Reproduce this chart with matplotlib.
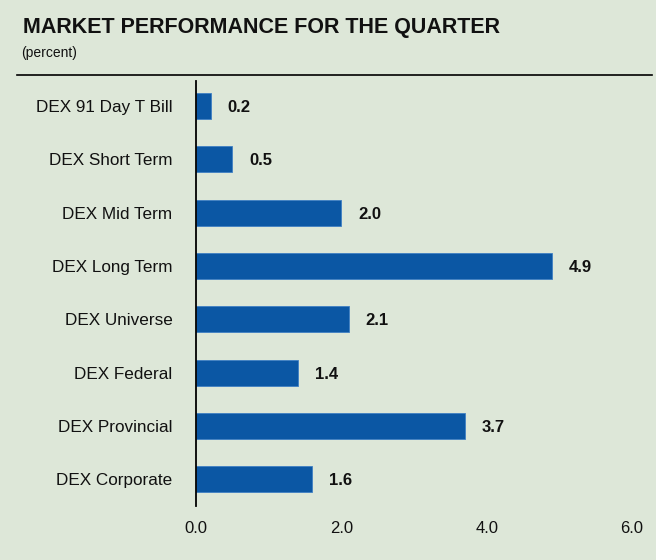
import matplotlib
matplotlib.use("Agg")
import matplotlib.pyplot as plt
from matplotlib.lines import Line2D

categories = ["DEX 91 Day T Bill", "DEX Short Term", "DEX Mid Term", "DEX Long Term",
              "DEX Universe", "DEX Federal", "DEX Provincial", "DEX Corporate"]
values = [0.2, 0.5, 2.0, 4.9, 2.1, 1.4, 3.7, 1.6]
xticks = [0.0, 2.0, 4.0, 6.0]

bg = "#dde7d8"
plt.rcParams['font.family'] = ['Liberation Sans', 'DejaVu Sans']

fig = plt.figure(figsize=(6.56, 5.6), dpi=100, facecolor=bg)
ax = fig.add_axes([196/656, 1 - 506/560, (632 - 196)/656, (506 - 81)/560])
ax.set_facecolor(bg)

n = len(categories)
ypos = list(range(n - 1, -1, -1))
ax.barh(ypos, values, height=0.49, color="#0b57a4", edgecolor="#3f80c4", linewidth=0.6)

for y, v in zip(ypos, values):
    ax.text(v + 0.235, y - 0.03, f"{v:.1f}", va="center", ha="left",
            fontsize=12, fontweight="bold", color="#111111")

ax.set_xlim(0, 6)
ax.set_ylim(-0.5, 7.47)
ax.set_yticks(ypos)
ax.set_yticklabels(categories, fontsize=12.3, color="#111111")
ax.set_xticks(xticks)
ax.set_xticklabels([f"{t:.1f}" for t in xticks], fontsize=12, color="#111111")
ax.tick_params(axis="y", length=0, pad=17)
ax.tick_params(axis="x", length=0, pad=11)
for s in ["top", "right", "bottom"]:
    ax.spines[s].set_visible(False)
ax.spines["left"].set_color("black")
ax.spines["left"].set_linewidth(1.3)

fig.text(23/656, 1 - 28/560, "MARKET PERFORMANCE FOR THE QUARTER", fontsize=15.5,
         fontweight="bold", va="center", ha="left", color="#111111")
fig.text(21/656, 1 - 53/560, "(percent)", fontsize=10, va="center", ha="left", color="#111111")
fig.add_artist(Line2D([17/656, 652/656], [1 - 75/560, 1 - 75/560], color="black", linewidth=1.2,
                      transform=fig.transFigure))

fig.savefig("out.png", dpi=100, facecolor=bg)
